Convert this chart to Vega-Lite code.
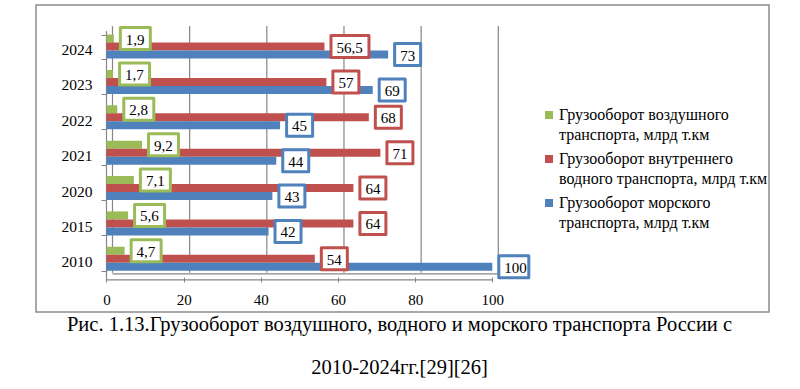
{
  "$schema": "https://vega.github.io/schema/vega-lite/v6.json",
  "width": 733,
  "height": 307,
  "autosize": {"type": "none"},
  "padding": {"left": 36, "top": 5, "right": 31, "bottom": 77},
  "background": "white",
  "config": {
    "view": {"stroke": "#8c8c8c", "strokeWidth": 1.5},
    "font": "Liberation Serif",
    "style": {"guide-label": {"lineHeight": 20}}
  },
  "title": {
    "text": ["Рис. 1.13.Грузооборот воздушного, водного и морского транспорта России с", "2010-2024гг.[29][26]"],
    "orient": "bottom",
    "anchor": "middle",
    "frame": "group",
    "offset": 3,
    "dx": -3,
    "font": "Liberation Serif",
    "fontSize": 20.5,
    "fontWeight": "normal",
    "color": "black",
    "lineHeight": 43
  },
  "data": {
    "values": [
      {"y": "2024", "s": "Грузооборот воздушного транспорта, млрд т.км", "v": 1.9},
      {"y": "2024", "s": "Грузооборот внутреннего водного транспорта, млрд т.км", "v": 56.5},
      {"y": "2024", "s": "Грузооборот морского транспорта, млрд т.км", "v": 73},
      {"y": "2023", "s": "Грузооборот воздушного транспорта, млрд т.км", "v": 1.7},
      {"y": "2023", "s": "Грузооборот внутреннего водного транспорта, млрд т.км", "v": 57},
      {"y": "2023", "s": "Грузооборот морского транспорта, млрд т.км", "v": 69},
      {"y": "2022", "s": "Грузооборот воздушного транспорта, млрд т.км", "v": 2.8},
      {"y": "2022", "s": "Грузооборот внутреннего водного транспорта, млрд т.км", "v": 68},
      {"y": "2022", "s": "Грузооборот морского транспорта, млрд т.км", "v": 45},
      {"y": "2021", "s": "Грузооборот воздушного транспорта, млрд т.км", "v": 9.2},
      {"y": "2021", "s": "Грузооборот внутреннего водного транспорта, млрд т.км", "v": 71},
      {"y": "2021", "s": "Грузооборот морского транспорта, млрд т.км", "v": 44},
      {"y": "2020", "s": "Грузооборот воздушного транспорта, млрд т.км", "v": 7.1},
      {"y": "2020", "s": "Грузооборот внутреннего водного транспорта, млрд т.км", "v": 64},
      {"y": "2020", "s": "Грузооборот морского транспорта, млрд т.км", "v": 43},
      {"y": "2015", "s": "Грузооборот воздушного транспорта, млрд т.км", "v": 5.6},
      {"y": "2015", "s": "Грузооборот внутреннего водного транспорта, млрд т.км", "v": 64},
      {"y": "2015", "s": "Грузооборот морского транспорта, млрд т.км", "v": 42},
      {"y": "2010", "s": "Грузооборот воздушного транспорта, млрд т.км", "v": 4.7},
      {"y": "2010", "s": "Грузооборот внутреннего водного транспорта, млрд т.км", "v": 54},
      {"y": "2010", "s": "Грузооборот морского транспорта, млрд т.км", "v": 100}
    ]
  },
  "transform": [
    {"calculate": "replace(toString(datum.v), '.', ',')", "as": "label"},
    {"calculate": "length(datum.label)", "as": "len"}
  ],
  "layer": [
    {
      "data": {"values": [{"g": 0}, {"g": 20}, {"g": 40}, {"g": 60}, {"g": 80}, {"g": 100}]},
      "transform": [],
      "mark": {"type": "rule", "color": "#868686", "strokeWidth": 1.2, "xOffset": 6, "yOffset": -20.5, "y2Offset": 14},
      "encoding": {
        "x": {"field": "g", "type": "quantitative"},
        "y": {"datum": "2024", "type": "nominal"},
        "y2": {"datum": "2010"}
      }
    },
    {
      "data": {"values": [{}]},
      "transform": [],
      "mark": {"type": "rule", "color": "#868686", "strokeWidth": 1.2, "yOffset": -15.5, "y2Offset": 21},
      "encoding": {
        "x": {"datum": 0, "type": "quantitative"},
        "y": {"datum": "2024", "type": "nominal"},
        "y2": {"datum": "2010"}
      }
    },
    {
      "data": {"values": [{}]},
      "transform": [],
      "mark": {"type": "rule", "color": "#868686", "strokeWidth": 1.2, "yOffset": 21},
      "encoding": {
        "x": {"datum": 0, "type": "quantitative"},
        "x2": {"datum": 100},
        "y": {"datum": "2010", "type": "nominal"}
      }
    },
    {
      "data": {"values": [{}]},
      "transform": [],
      "mark": {"type": "rule", "color": "#868686", "strokeWidth": 1.2, "xOffset": 6, "x2Offset": 6, "yOffset": 15},
      "encoding": {
        "x": {"datum": 0, "type": "quantitative"},
        "x2": {"datum": 100},
        "y": {"datum": "2010", "type": "nominal"}
      }
    },
    {
      "mark": {"type": "bar"},
      "encoding": {
        "x": {
          "field": "v", "type": "quantitative",
          "scale": {"domain": [-18.27, 171.72], "nice": false, "zero": false},
          "axis": {"values": [0, 20, 40, 60, 80, 100], "offset": -35, "domain": false, "grid": false, "ticks": true, "tickSize": 5, "tickColor": "#868686", "labelFont": "Liberation Serif", "labelFontSize": 15, "labelColor": "black", "labelPadding": 10, "title": null}
        },
        "x2": {"datum": 0},
        "y": {
          "field": "y", "type": "nominal",
          "scale": {"domain": ["2024", "2023", "2022", "2021", "2020", "2015", "2010"], "paddingInner": 0.32, "paddingOuter": 1.096, "align": 0.418},
          "axis": {"offset": -70, "domain": false, "ticks": true, "tickBand": "extent", "tickSize": 5, "tickColor": "#868686", "labelPadding": 9, "labelOffset": 3, "labelFont": "Liberation Serif", "labelFontSize": 15.5, "labelColor": "black", "title": null, "grid": false}
        },
        "yOffset": {
          "field": "s", "type": "nominal",
          "scale": {"domain": ["Грузооборот воздушного транспорта, млрд т.км", "Грузооборот внутреннего водного транспорта, млрд т.км", "Грузооборот морского транспорта, млрд т.км"], "paddingInner": 0, "paddingOuter": 0}
        },
        "color": {
          "field": "s", "type": "nominal",
          "scale": {"domain": ["Грузооборот воздушного транспорта, млрд т.км", "Грузооборот внутреннего водного транспорта, млрд т.км", "Грузооборот морского транспорта, млрд т.км"], "range": ["#9BBB59", "#C0504D", "#4F81BD"]},
          "legend": {
            "orient": "none", "legendX": 505, "legendY": 102, "title": null,
            "symbolType": "square", "symbolSize": 64, "symbolStrokeWidth": 0,
            "labelFont": "Liberation Serif", "labelFontSize": 16, "labelColor": "black", "labelLimit": 0, "labelOffset": 2,
            "labelExpr": "[join(slice(split(datum.label, ' '), 0, 2), ' '), join(slice(split(datum.label, ' '), 2), ' ')]",
            "rowPadding": 8, "padding": 0
          }
        }
      }
    },
    {
      "mark": {"type": "point", "filled": true, "fill": "white", "size": 400, "strokeWidth": 3, "opacity": 1, "strokeJoin": "round"},
      "encoding": {
        "x": {"field": "v", "type": "quantitative"},
        "y": {"field": "y", "type": "nominal"},
        "yOffset": {"field": "s", "type": "nominal"},
        "shape": {"field": "len", "type": "nominal", "scale": {"domain": [2, 3, 4], "range": ["M0.65,-1.1L3.25,-1.1L3.25,1.1L0.65,1.1Z", "M0.65,-1.1L3.65,-1.1L3.65,1.1L0.65,1.1Z", "M0.65,-1.1L4.45,-1.1L4.45,1.1L0.65,1.1Z"]}, "legend": null},
        "stroke": {"field": "s", "type": "nominal", "scale": {"domain": ["Грузооборот воздушного транспорта, млрд т.км", "Грузооборот внутреннего водного транспорта, млрд т.км", "Грузооборот морского транспорта, млрд т.км"], "range": ["#9BBB59", "#C0504D", "#4F81BD"]}, "legend": null}
      }
    },
    {
      "mark": {"type": "text", "align": "left", "baseline": "middle", "dx": 12, "dy": 1, "font": "Liberation Serif", "fontSize": 15, "color": "black"},
      "encoding": {
        "x": {"field": "v", "type": "quantitative"},
        "y": {"field": "y", "type": "nominal"},
        "yOffset": {"field": "s", "type": "nominal"},
        "text": {"field": "label"}
      }
    }
  ]
}
